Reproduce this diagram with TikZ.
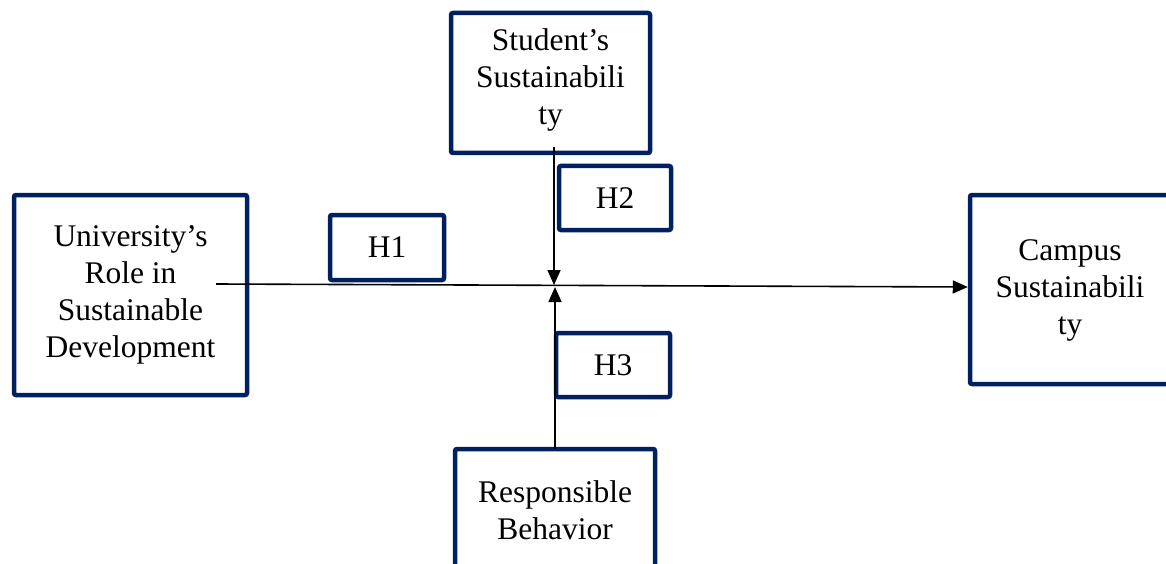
\documentclass[tikz,border=0pt]{standalone}
\usepackage{fontspec}
\setmainfont{Liberation Serif}
\usetikzlibrary{arrows.meta,calc}
\definecolor{navy}{HTML}{002060}
\tikzset{
  box/.style={draw=navy, line width=4.5pt, rounded corners=2pt, fill=white, inner sep=0pt, align=center,
    font=\fontsize{31.5}{37}\selectfont},
  txt/.style={inner sep=0pt, align=center, font=\fontsize{31.5}{37}\selectfont},
  conn/.style={line width=1.6pt, -{Triangle[length=15pt,width=13pt]}}
}
\begin{document}
\begin{tikzpicture}[x=1pt,y=-1pt]
\useasboundingbox (0,0) rectangle (1166,564);
\clip (0,0) rectangle (1166,564);
\node[box, minimum width=233pt, minimum height=200pt] (uni) at (130.5,295) {University’s\\Role in\\Sustainable\\Development};
\node[box, minimum width=199pt, minimum height=140pt] (student) at (550.5,83) {};
\node[txt] (studenttext) at (550.5,80) {Student’s\\Sustainabili\\ty};
\node[box, minimum width=112pt, minimum height=64pt] (h2) at (615,198) {H2};
\node[box, minimum width=114pt, minimum height=65pt] (h1) at (387,247.5) {H1};
\node[box, minimum width=200pt, minimum height=189pt] (campus) at (1070,289.5) {};
\node[txt] (campustext) at (1070,290) {Campus\\Sustainabili\\ty};
\node[box, minimum width=114pt, minimum height=64pt] (h3) at (613,365) {H3};
\node[box, minimum width=200pt, minimum height=151pt] (resp) at (555,524.5) {};
\node[txt] (resptext) at (555,510) {Responsible\\Behavior};
\coordinate (hstart) at (216,284);
\coordinate (hend) at ($(campus.west)+(0,-2.5)$);
\coordinate (dstart) at (554,147);
\coordinate (dend) at (554,285);
\coordinate (ustart) at (555,449);
\coordinate (uend) at (555,287);
\draw[conn] (hstart) -- (hend);
\draw[conn] (dstart) -- (dend);
\draw[conn] (ustart) -- (uend);
\end{tikzpicture}
\end{document}
